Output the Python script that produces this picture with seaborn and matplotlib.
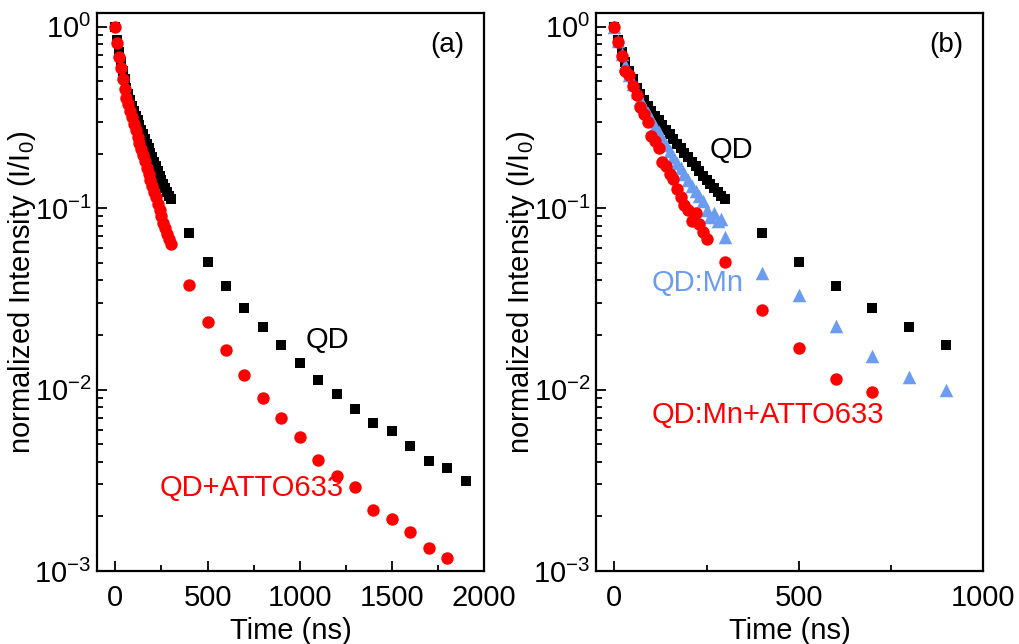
import numpy as np
import pandas as pd
import matplotlib
matplotlib.use("Agg")
import matplotlib.pyplot as plt
import seaborn as sns
from matplotlib.ticker import LogLocator, MultipleLocator, FuncFormatter

# ---------------- data ----------------
t_dense_qd = list(range(0, 301, 10))
qd_dense = [1.0, 0.841, 0.724, 0.638, 0.569, 0.513, 0.462, 0.425, 0.395, 0.367,
            0.345, 0.324, 0.305, 0.287, 0.270, 0.255, 0.240, 0.226, 0.214, 0.202,
            0.191, 0.180, 0.170, 0.160, 0.151, 0.143, 0.136, 0.129, 0.123, 0.117, 0.112]
t_sparse_qd = [400, 500, 600, 700, 800, 900, 1000, 1100, 1200, 1300, 1400, 1500, 1600, 1700, 1800, 1900]
qd_sparse = [0.073, 0.0506, 0.0373, 0.0282, 0.0220, 0.0175, 0.0140, 0.0113, 0.00946, 0.00782,
             0.00654, 0.00591, 0.00489, 0.00404, 0.00370, 0.00313]

t_dense_atto = list(range(0, 301, 10))
atto_dense = [1.0, 0.813, 0.684, 0.589, 0.513, 0.452, 0.407, 0.373, 0.343, 0.316,
              0.292, 0.269, 0.248, 0.229, 0.212, 0.196, 0.181, 0.167, 0.155, 0.143,
              0.133, 0.123, 0.115, 0.106, 0.0977, 0.0902, 0.0832, 0.0776, 0.0724, 0.0676, 0.0631]
t_sparse_atto = [400, 500, 600, 700, 800, 900, 1000, 1100, 1200, 1300, 1400, 1500, 1600, 1700, 1800]
atto_sparse = [0.0378, 0.0236, 0.0165, 0.0120, 0.0090, 0.0070, 0.00548, 0.00409, 0.00334,
               0.00290, 0.00217, 0.00193, 0.00164, 0.00134, 0.00118]

t_qdmn = list(range(0, 291, 10)) + [300, 400, 500, 600, 700, 800, 900]
qdmn = [1.0, 0.832, 0.708, 0.617, 0.543, 0.484, 0.437, 0.398, 0.363, 0.335,
        0.309, 0.285, 0.263, 0.243, 0.224, 0.207, 0.191, 0.178, 0.166, 0.155,
        0.143, 0.133, 0.124, 0.116, 0.110, 0.098, 0.089, 0.094, 0.085, 0.087,
        0.069, 0.044, 0.0332, 0.0224, 0.0153, 0.0117, 0.00995]

t_mnatto = list(range(0, 251, 10)) + [300, 400, 500, 600, 700]
mnatto = [1.0, 0.82, 0.69, 0.57, 0.54, 0.47, 0.42, 0.36, 0.33, 0.30,
          0.25, 0.235, 0.215, 0.18, 0.17, 0.155, 0.145, 0.128, 0.115, 0.104,
          0.098, 0.085, 0.094, 0.082, 0.074, 0.068,
          0.0506, 0.0275, 0.0170, 0.0115, 0.0097]

qd_t_all = t_dense_qd + t_sparse_qd
qd_all = qd_dense + qd_sparse
atto_t_all = t_dense_atto + t_sparse_atto
atto_all = atto_dense + atto_sparse

RED = "#ff0000"
BLUE = "#6c9cf0"
BLACK = "#000000"

sns.set_theme(style="ticks")
plt.rcParams["font.family"] = ["Liberation Sans", "DejaVu Sans"]
plt.rcParams["mathtext.fontset"] = "custom"
plt.rcParams["mathtext.rm"] = "Liberation Sans"
plt.rcParams["mathtext.it"] = "Liberation Sans:italic"
plt.rcParams["mathtext.bf"] = "Liberation Sans:bold"
plt.rcParams["axes.unicode_minus"] = False
for k in ["text.color", "axes.labelcolor", "xtick.color", "ytick.color",
          "xtick.labelcolor", "ytick.labelcolor", "axes.edgecolor"]:
    plt.rcParams[k] = "black"

FS = 21

fig = plt.figure(figsize=(10.19, 6.44), dpi=100)
axa = fig.add_axes([97 / 1019, (644 - 571) / 644, 387 / 1019, 558 / 644])
axb = fig.add_axes([596 / 1019, (644 - 571) / 644, 387 / 1019, 558 / 644])

def logfmt(v, pos):
    e = int(round(np.log10(v)))
    return r"$\mathregular{10^{%d}}$" % e

def style(ax, xlim, xmaj):
    ax.set_yscale("log")
    ax.set_ylim(1e-3, 1.19)
    ax.set_xlim(*xlim)
    ax.xaxis.set_major_locator(MultipleLocator(xmaj))
    ax.xaxis.set_minor_locator(MultipleLocator(xmaj / 2))
    ax.yaxis.set_major_locator(LogLocator(base=10, numticks=10))
    ax.yaxis.set_minor_locator(LogLocator(base=10, subs=np.arange(2, 10), numticks=20))
    ax.yaxis.set_major_formatter(FuncFormatter(logfmt))
    ax.tick_params(which="both", direction="in", top=False, right=False, labelsize=FS,
                   color="black", labelcolor="black", width=1.3)
    ax.tick_params(which="major", length=7)
    ax.tick_params(which="minor", length=4)
    ax.tick_params(axis="x", pad=9)
    ax.tick_params(axis="y", pad=4)
    for s in ax.spines.values():
        s.set_linewidth(1.6)
        s.set_color("black")
        s.set_visible(True)
    ax.set_xlabel("Time (ns)", fontsize=FS, color="black")
    ax.set_ylabel("normalized Intensity (I/I$_0$)", fontsize=FS, color="black")
    ax.xaxis.set_label_coords(0.5, -0.082)
    ax.yaxis.set_label_coords(-0.152, 0.5)

# ---------- panel (a) ----------
df_qd = pd.DataFrame({"t": qd_t_all, "I": qd_all})
df_at = pd.DataFrame({"t": atto_t_all, "I": atto_all})
sns.scatterplot(data=df_qd, x="t", y="I", ax=axa, marker="s", s=55, color=BLACK,
                linewidth=0, zorder=3)
sns.scatterplot(data=df_at, x="t", y="I", ax=axa, marker="o", s=80, color=RED,
                linewidth=0, zorder=4)
style(axa, (-100, 2000), 500)
axa.text(1030, 0.0188, "QD", color=BLACK, fontsize=FS, ha="left", va="center")
axa.text(240, 0.00286, "QD+ATTO633", color=RED, fontsize=FS, ha="left", va="center")
axa.text(0.905, 0.943, "(a)", transform=axa.transAxes, fontsize=FS - 1, ha="center", va="center")

# ---------- panel (b) ----------
mask = [t <= 900 for t in qd_t_all]
df_qd_b = df_qd[mask]
df_mn = pd.DataFrame({"t": t_qdmn, "I": qdmn})
df_ma = pd.DataFrame({"t": t_mnatto, "I": mnatto})
sns.scatterplot(data=df_qd_b, x="t", y="I", ax=axb, marker="s", s=55, color=BLACK,
                linewidth=0, zorder=3)
sns.scatterplot(data=df_mn, x="t", y="I", ax=axb, marker="^", s=95, color=BLUE,
                linewidth=0, zorder=4)
sns.scatterplot(data=df_ma, x="t", y="I", ax=axb, marker="o", s=80, color=RED,
                linewidth=0, zorder=5)
style(axb, (-50, 1000), 500)
axb.text(258, 0.21, "QD", color=BLACK, fontsize=FS, ha="left", va="center")
axb.text(100, 0.0387, "QD:Mn", color=BLUE, fontsize=FS, ha="left", va="center")
axb.text(100, 0.00724, "QD:Mn+ATTO633", color=RED, fontsize=FS, ha="left", va="center")
axb.text(0.905, 0.943, "(b)", transform=axb.transAxes, fontsize=FS - 1, ha="center", va="center")

fig.savefig("out.png", dpi=100, facecolor="white")
